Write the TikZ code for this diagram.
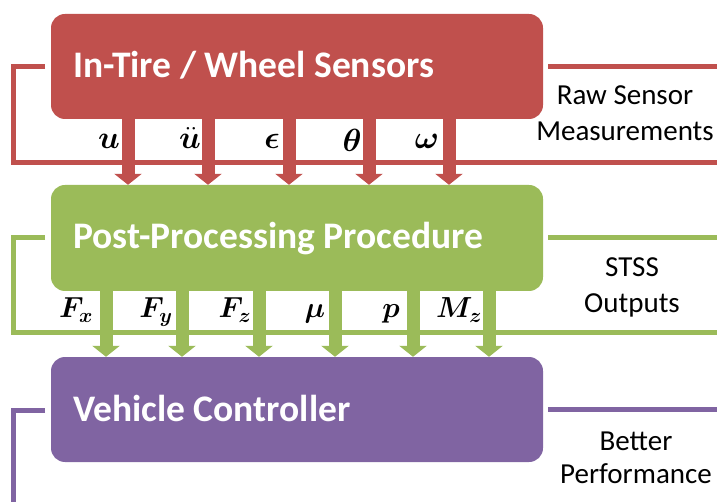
\RequirePackage{fix-cm}
\documentclass[tikz,border=0pt]{standalone}
\usepackage{amsmath,bm}
\usepackage{fontspec}
\setmainfont{Carlito}
\usetikzlibrary{arrows.meta}
\definecolor{cred}{HTML}{C0504D}
\definecolor{cgreen}{HTML}{9BBB59}
\definecolor{cpurple}{HTML}{8064A2}
\begin{document}
\begin{tikzpicture}[x=1pt,y=-1pt,
  box/.style={rectangle, rounded corners=14pt, inner sep=0pt, minimum width=492pt},
  title/.style={anchor=base west, inner sep=0pt, text=white, font=\fontsize{37.5}{42}\selectfont\bfseries},
  side/.style={anchor=base, inner sep=0pt, font=\fontsize{29}{33}\selectfont},
  symA/.style={anchor=base, inner sep=0pt, font=\fontsize{32}{36}\selectfont},
  symB/.style={anchor=base, inner sep=0pt, font=\fontsize{29}{33}\selectfont},
  bracket/.style={line width=5pt},
  blockarr/.style={line width=13pt, -{Triangle[width=27pt,length=11pt]}}]
\useasboundingbox (0,0) rectangle (717,502);
% boxes
\node[box, fill=cred, minimum height=105pt] (red) at (297,66.5) {};
\node[box, fill=cgreen, minimum height=106pt] (green) at (297,238) {};
\node[box, fill=cpurple, minimum height=105pt] (purple) at (297,409.5) {};
\node[title] (redt) at (73,78) {In-Tire / Wheel Sensors};
\node[title] (greent) at (73,249) {Post-Processing Procedure};
\node[title] (purplet) at (73,421) {Vehicle Controller};
% brackets
\draw[bracket, cred] (45,67) -- (13,67) -- (13,163) -- (720,163);
\draw[bracket, cred] (548,67) -- (720,67);
\draw[bracket, cgreen] (45,238) -- (13,238) -- (13,333) -- (720,333);
\draw[bracket, cgreen] (548,238) -- (720,238);
\draw[bracket, cpurple] (45,410) -- (13,410) -- (13,506);
\draw[bracket, cpurple] (548,409) -- (720,409);
% side labels
\node[side] (raw1) at (625,105) {Raw Sensor};
\node[side] (raw2) at (625,141) {Measurements};
\node[side] (stss1) at (632,277) {STSS};
\node[side] (stss2) at (632,313) {Outputs};
\node[side] (bet1) at (636,450) {Better};
\node[side] (bet2) at (636,483) {Performance};
% red arrows
\foreach \x in {128,208,289,369,449}
  \draw[blockarr, cred] (red.south -| \x,0) -- (green.north -| \x,0);
% green arrows
\foreach \x in {106,182,259,335,413,489}
  \draw[blockarr, cgreen] (green.south -| \x,0) -- (purple.north -| \x,0);
% symbols
\node[symA] (su) at (109,149) {$\boldsymbol{u}$};
\node[symA] (sdu) at (190,149) {$\boldsymbol{\ddot{u}}$};
\node[symA] (seps) at (272,149) {$\boldsymbol{\epsilon}$};
\node[symA] (sth) at (352,152) {$\boldsymbol{\theta}$};
\node[symA] (som) at (427,149) {$\boldsymbol{\omega}$};
\node[symB] (sfx) at (76,318) {$\boldsymbol{F_x}$};
\node[symB] (sfy) at (156,318) {$\boldsymbol{F_y}$};
\node[symB] (sfz) at (235,318) {$\boldsymbol{F_z}$};
\node[symB] (smu) at (315,318) {$\boldsymbol{\mu}$};
\node[symB] (sp) at (391,318) {$\boldsymbol{p}$};
\node[symB] (smz) at (459,318) {$\boldsymbol{M_z}$};
\end{tikzpicture}
\end{document}
